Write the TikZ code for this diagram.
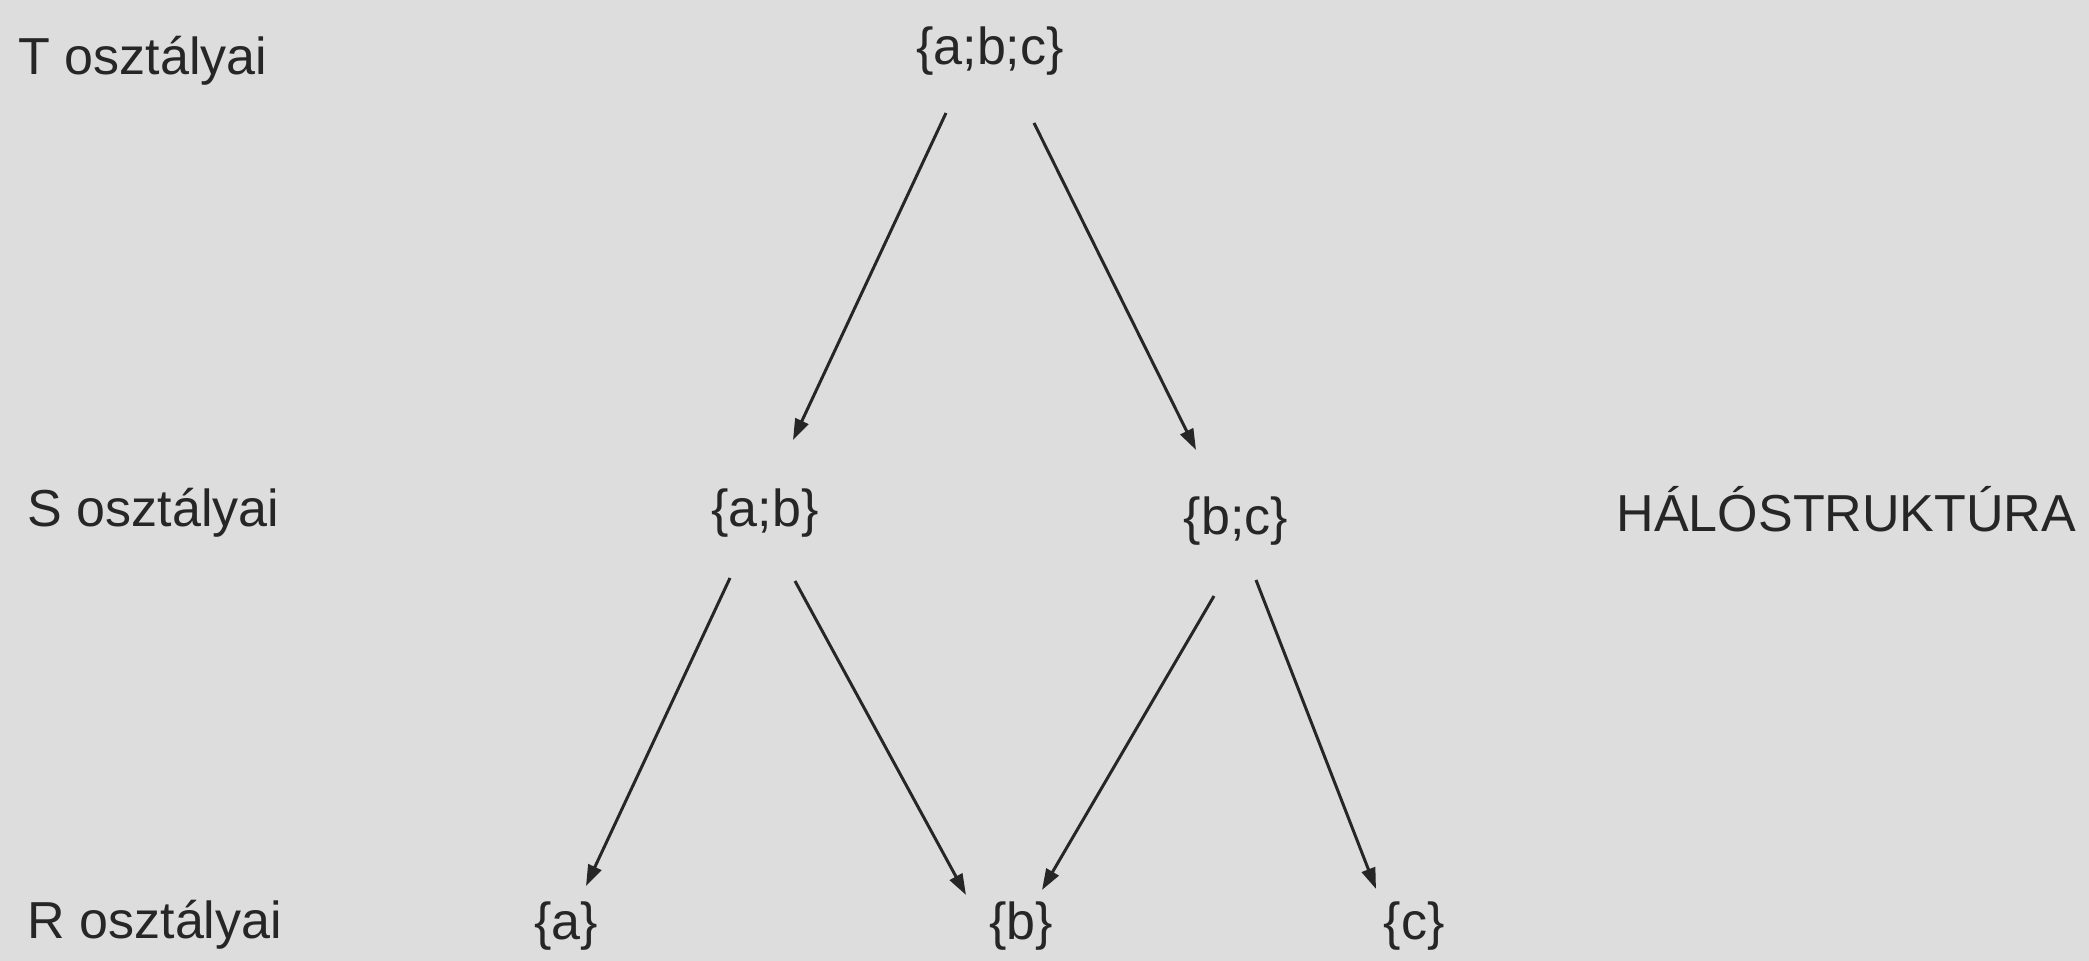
\documentclass[tikz,border=0pt]{standalone}
\usepackage{fontspec}
\setmainfont{Liberation Sans}
\usetikzlibrary{arrows.meta, positioning}
\definecolor{paper}{RGB}{221,221,221}
\definecolor{ink}{RGB}{38,38,38}

\begin{document}
\begin{tikzpicture}[
    set/.style={inner sep=0pt, anchor=base, text=ink, font=\fontsize{14.8}{18}\selectfont},
    level/.style={set, anchor=base west},
    arrow/.style={-{Triangle[length=2.1mm, width=1.4mm]}, line width=0.85pt, draw=ink}
]
    \fill[paper] (0,0) rectangle (20.89,9.61);

    % row labels
    \node[level] (t) at (0.18,8.86) {T osztályai};
    \node[level] (s) at (0.27,4.34) {S osztályai};
    \node[level] (r) at (0.27,0.22) {R osztályai};
    \node[level] (halo) at (16.16,4.29) {HÁLÓSTRUKTÚRA};

    % classes
    \node[set] (abc) at (9.90,8.96) {\{a;b;c\}};
    \node[set] (ab) at (7.65,4.34) {\{a;b\}};
    \node[set] (bc) at (12.36,4.26) {\{b;c\}};
    \node[set] (a) at (5.66,0.21) {\{a\}};
    \node[set] (b) at (10.21,0.21) {\{b\}};
    \node[set] (c) at (14.14,0.21) {\{c\}};

    \draw[arrow] ([xshift=-4.4mm, yshift=-4.8mm]abc.base) -- ([xshift=2.8mm, yshift=8.7mm]ab.base);
    \draw[arrow] ([xshift=4.4mm, yshift=-5.8mm]abc.base) -- ([xshift=-4.0mm, yshift=8.5mm]bc.base);
    \draw[arrow] ([xshift=-3.5mm, yshift=-5.1mm]ab.base) -- ([xshift=2.0mm, yshift=5.4mm]a.base);
    \draw[arrow] ([xshift=3.0mm, yshift=-5.4mm]ab.base) -- ([xshift=-5.5mm, yshift=4.5mm]b.base);
    \draw[arrow] ([xshift=-2.2mm, yshift=-6.1mm]bc.base) -- ([xshift=2.1mm, yshift=5.0mm]b.base);
    \draw[arrow] ([xshift=2.0mm, yshift=-4.5mm]bc.base) -- ([xshift=-3.8mm, yshift=5.1mm]c.base);
\end{tikzpicture}
\end{document}
